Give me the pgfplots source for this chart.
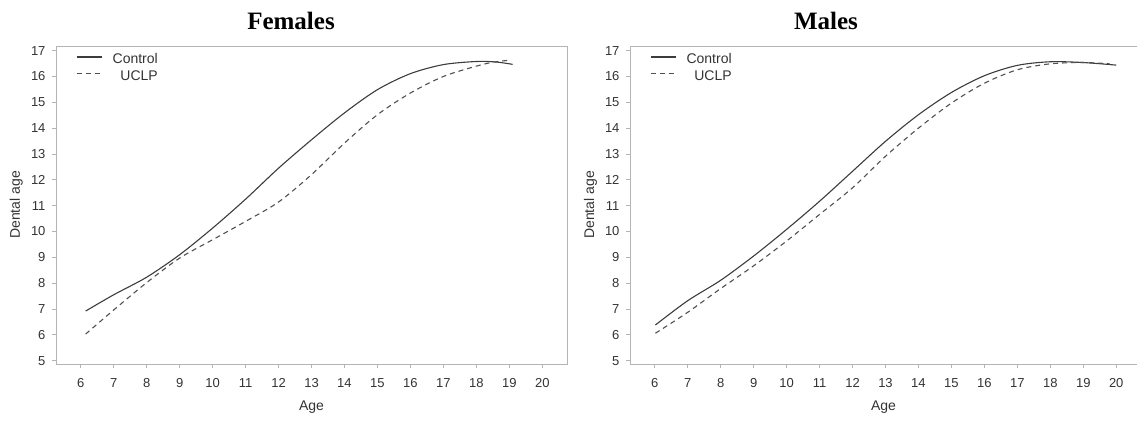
\documentclass[border=0pt]{standalone}
\usepackage{fontspec}
\setmainfont{Liberation Sans}
\newfontfamily\titlefont{Liberation Serif}
\usepackage{pgfplots}
\pgfplotsset{compat=1.18}
\definecolor{boxgray}{HTML}{B4B4B4}
\definecolor{txtgray}{HTML}{333333}
\definecolor{linegray}{HTML}{3C3C3C}
\definecolor{dashgray}{HTML}{505050}
\pgfplotsset{
  dentstyle/.style={
    scale only axis,
    height=318pt,
    xmin=5.25, ymin=4.87, ymax=17.18,
    xtick={6,7,...,20}, ytick={5,6,...,17},
    axis line style={boxgray, line width=0.9pt},
    tick style={boxgray, line width=0.8pt},
    tick align=outside, major tick length=4pt,
    xtick pos=bottom, ytick pos=left,
    ticklabel style={font=\fontsize{13}{15}\selectfont, text=txtgray},
    /pgf/number format/assume math mode=true,
    xticklabel style={yshift=-7pt},
    yticklabel style={xshift=-3pt},
    label style={font=\fontsize{14}{16}\selectfont, text=txtgray},
    xlabel={Age}, ylabel={Dental age},
    xlabel style={at={(axis description cs:0.5,-0.137)}, anchor=center},
    ylabel style={at={(axis description cs:-0.078,0.5)}, anchor=center},
    legend style={draw=none, fill=none, font=\fontsize{14}{16}\selectfont, text=txtgray,
      at={(axis description cs:0.039,0.977)}, anchor=north west, row sep=6.5pt, inner sep=0pt,
      nodes={inner sep=0pt, text height=10pt, text depth=0pt},
      column sep=0pt},
    legend cell align=right,
    legend image code/.code={\path[draw=none,fill=none] (0pt,-5pt) rectangle (36pt,5pt);\draw[##1] (0pt,1.5pt) -- (25pt,1.5pt);},
  },
  ctrl/.style={linegray, line width=1.1pt, smooth},
  uclp/.style={dashgray, line width=1.1pt, dash pattern=on 5pt off 4pt, smooth},
}
\begin{document}
\begin{tikzpicture}
\useasboundingbox (0,0) rectangle (1137pt,421pt);
\node[font=\titlefont\bfseries\fontsize{25}{28}\selectfont, anchor=base] at (291pt,391pt) {Females};
\node[font=\titlefont\bfseries\fontsize{25}{28}\selectfont, anchor=base] at (826pt,391pt) {Males};
\begin{axis}[dentstyle, at={(56pt,57pt)}, anchor=south west, width=511pt, xmax=20.75]
\addplot[ctrl] coordinates {(6.15,6.92) (7,7.55) (8,8.23) (9,9.10) (10,10.13) (11,11.25) (12,12.45) (13,13.55) (14,14.59) (15,15.49) (16,16.11) (17,16.46) (18,16.58) (18.6,16.56) (19.1,16.47)};
\addlegendentry{Control}
\addplot[uclp] coordinates {(6.15,6.03) (7,6.96) (8,8.02) (9,8.97) (10,9.68) (11,10.39) (12,11.14) (13,12.20) (14,13.42) (15,14.52) (16,15.36) (17,16.00) (18,16.40) (18.5,16.55) (19.0,16.63)};
\addlegendentry{UCLP}
\end{axis}
\begin{axis}[dentstyle, at={(630pt,57pt)}, anchor=south west, width=507pt, xmax=20.63]
\addplot[ctrl] coordinates {(6.02,6.38) (7,7.32) (8,8.11) (9,9.05) (10,10.08) (11,11.17) (12,12.33) (13,13.49) (14,14.52) (15,15.38) (16,16.03) (17,16.43) (18,16.57) (19,16.54) (20,16.44)};
\addlegendentry{Control}
\addplot[uclp] coordinates {(6.02,6.06) (7,6.87) (8,7.79) (9,8.67) (10,9.63) (11,10.66) (12,11.69) (13,12.91) (14,14.00) (15,14.97) (16,15.74) (17,16.26) (18,16.49) (19,16.54) (19.8,16.49)};
\addlegendentry{UCLP}
\end{axis}
\end{tikzpicture}
\end{document}
